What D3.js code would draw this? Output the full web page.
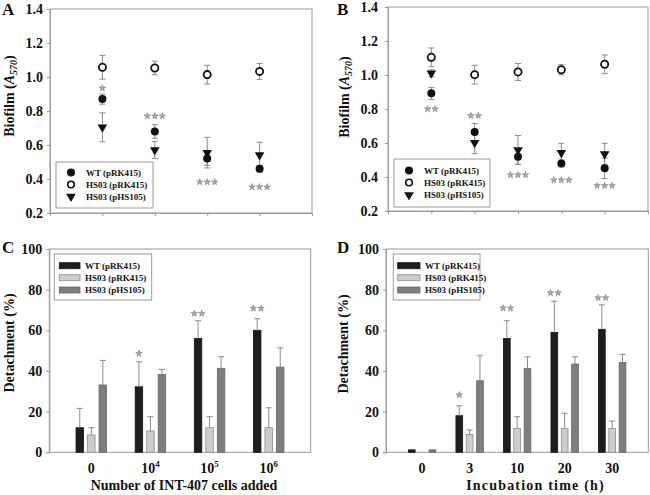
<!DOCTYPE html>
<html><head><meta charset="utf-8">
<script src="https://cdn.jsdelivr.net/npm/d3@7"></script>
<style>
html,body{margin:0;padding:0;background:#fff;}
svg{display:block;font-family:"Liberation Serif","Times New Roman",serif;font-weight:bold;}
</style></head>
<body>
<svg id="chart" width="650" height="495"></svg>
<script>
// ---------- DATA ----------
const seriesNames = ["WT (pRK415)", "HS03 (pRK415)", "HS03 (pHS105)"];

// Panel A: biofilm vs INT-407 cell number (4 conditions)
const aX = [1, 2, 3, 4];
const aWT = [0.87, 0.68, 0.52, 0.46];
const aWTErr = [0.03, 0.04, 0.04, 0.02];
const aRK = [1.057, 1.053, 1.014, 1.033];
const aRKErr = [0.07, 0.04, 0.055, 0.047];
const aHS = [0.704, 0.571, 0.555, 0.541];
const aHSErr = [0.085, 0.05, 0.09, 0.075];
const aStars = [1, 3, 3, 3];
const aStarAt = [0.935, 0.77, 0.382, 0.353];

// Panel B: biofilm vs incubation time (5 conditions)
const bX = [1, 2, 3, 4, 5];
const bWT = [0.892, 0.665, 0.519, 0.48, 0.451];
const bWTErr = [0.035, 0.05, 0.045, 0.02, 0.06];
const bRK = [1.104, 1.002, 1.018, 1.031, 1.063];
const bRKErr = [0.055, 0.055, 0.05, 0.03, 0.055];
const bHS = [1.01, 0.602, 0.559, 0.543, 0.535];
const bHSErr = [0.02, 0.065, 0.085, 0.055, 0.063];
const bStars = [2, 2, 3, 3, 3];
const bStarAt = [0.80, 0.761, 0.412, 0.382, 0.349];

const bioTicks = [0.2, 0.4, 0.6, 0.8, 1.0, 1.2, 1.4];

// Panel C: detachment vs INT-407 cells added
const cCats = [["0", null], ["10", "4"], ["10", "5"], ["10", "6"]];
const cWT = [12.1, 32.2, 56, 60];
const cWTErr = [9.5, 12.3, 8.7, 5.7];
const cRK = [8.5, 10.5, 12.1, 12.1];
const cRKErr = [3.6, 7, 5.4, 9.8];
const cHS = [33.1, 38.3, 41.3, 41.9];
const cHSErr = [12.1, 2.5, 5.7, 9.5];
const cStars = [0, 1, 2, 2];
const cStarAt = [0, 48.6, 68.3, 70.8];

// Panel D: detachment vs incubation time (h)
const dCats = [["0", null], ["3", null], ["10", null], ["20", null], ["30", null]];
const dWT = [1.2, 18, 56, 59, 60.5];
const dWTErr = [0, 4.9, 8.7, 15.3, 12];
const dRK = [0, 8.8, 11.8, 11.8, 11.8];
const dRKErr = [0, 2.2, 5.7, 7.4, 3.6];
const dHS = [1.2, 35.2, 41.3, 43.4, 44.2];
const dHSErr = [0, 12.3, 5.7, 3.6, 4];
const dStars = [0, 1, 2, 2, 2];
const dStarAt = [0, 28.2, 70.9, 78.4, 76];

const detTicks = [0, 20, 40, 60, 80, 100];

// ---------- STYLE ----------
const FRAME = "#9a9a9a";
const ERR = "#8a8a8a";
const barFill = ["#1e1e1e", "#cdcdcd", "#7e7e7e"];
const barStroke = ["#111", "#8c8c8c", "#666"];

const svg = d3.select("#chart");
const starPath = d3.symbol(d3.symbolStar, 13)();

function drawStars(g, cx, cy, n) {
  const sp = 7.5;
  for (let k = 0; k < n; k++) {
    const sx = cx + (k - (n - 1) / 2) * sp;
    g.append("path").attr("d", starPath).attr("transform", `translate(${sx},${cy})`)
      .attr("fill", "#b0b0b0").attr("stroke", "#666").attr("stroke-width", 0.5);
  }
}

function frame(g, x0, x1, y0, y1) {
  g.append("rect").attr("x", x0).attr("y", y0).attr("width", x1 - x0).attr("height", y1 - y0)
    .attr("fill", "none").attr("stroke", FRAME).attr("stroke-width", 1);
}

function yAxis(g, y, x0, ticks, fmt, gap) {
  const ax = d3.axisLeft(y).tickValues(ticks).tickFormat(fmt).tickSize(3).tickPadding(gap);
  const a = g.append("g").attr("transform", `translate(${x0},0)`).call(ax);
  a.select(".domain").attr("stroke", FRAME);
  a.selectAll(".tick line").attr("stroke", FRAME);
  a.selectAll("text").attr("font-size", 14).attr("font-family", "Liberation Serif").attr("font-weight", "bold").attr("fill", "#111");
}

function panelLetter(txt, x, y) {
  svg.append("text").attr("x", x).attr("y", y).attr("font-size", 17).attr("fill", "#111").text(txt);
}

function bioTitle(x, y) {
  const t = svg.append("text").attr("transform", `translate(${x},${y}) rotate(-90)`)
    .attr("text-anchor", "middle").attr("font-size", 14).attr("fill", "#111");
  t.append("tspan").text("Biofilm (");
  t.append("tspan").attr("font-style", "italic").text("A");
  t.append("tspan").attr("font-style", "italic").attr("font-size", 10).attr("dy", 3).text("570");
  t.append("tspan").attr("dy", -3).text(")");
}

function scatterPanel(cfg, xs, series, stars, starAt) {
  const g = svg.append("g");
  const x = d3.scaleLinear().domain([0, cfg.nTicks]).range([cfg.x0, cfg.x1]);
  const y = d3.scaleLinear().domain([0.2, 1.4]).range([cfg.y1, cfg.y0]);
  frame(g, cfg.x0, cfg.x1, cfg.y0, cfg.y1);
  const xa = d3.axisBottom(x).tickValues(d3.range(0, cfg.nTicks + 1)).tickFormat("").tickSize(3);
  const xg = g.append("g").attr("transform", `translate(0,${cfg.y1})`).call(xa);
  xg.select(".domain").attr("stroke", FRAME);
  xg.selectAll(".tick line").attr("stroke", FRAME);
  yAxis(g, y, cfg.x0, bioTicks, d3.format(".1f"), cfg.gap);

  series.forEach(s => {
    const eg = g.append("g").attr("stroke", ERR).attr("stroke-width", 1);
    xs.forEach((xv, i) => {
      const e = s.err[i]; if (!e) return;
      const cx = x(xv), yt = y(s.vals[i] + e), yb = y(s.vals[i] - e);
      eg.append("line").attr("x1", cx).attr("x2", cx).attr("y1", yt).attr("y2", yb);
      eg.append("line").attr("x1", cx - 3).attr("x2", cx + 3).attr("y1", yt).attr("y2", yt);
      eg.append("line").attr("x1", cx - 3).attr("x2", cx + 3).attr("y1", yb).attr("y2", yb);
    });
  });
  const tri = d3.symbol(d3.symbolTriangle, 40)();
  [2, 0, 1].forEach(si => {
    const s = series[si];
    xs.forEach((xv, i) => {
      const cx = x(xv), cy = y(s.vals[i]);
      if (si === 0) g.append("circle").attr("cx", cx).attr("cy", cy).attr("r", 4).attr("fill", "#111");
      else if (si === 1) g.append("circle").attr("cx", cx).attr("cy", cy).attr("r", 3.6).attr("fill", "#fff").attr("stroke", "#111").attr("stroke-width", 1.8);
      else g.append("path").attr("d", tri).attr("transform", `translate(${cx},${cy}) rotate(180)`).attr("fill", "#111");
    });
  });
  xs.forEach((xv, i) => { if (stars[i]) drawStars(g, x(xv), y(starAt[i]), stars[i]); });

  const L = cfg.leg;
  g.append("rect").attr("x", L.x0).attr("y", L.y0).attr("width", L.x1 - L.x0).attr("height", L.y1 - L.y0)
    .attr("fill", "#fff").attr("stroke", FRAME);
  seriesNames.forEach((nm, i) => {
    const ry = L.rows[i];
    if (i === 0) g.append("circle").attr("cx", L.sx).attr("cy", ry).attr("r", 4).attr("fill", "#111");
    else if (i === 1) g.append("circle").attr("cx", L.sx).attr("cy", ry).attr("r", 3.3).attr("fill", "#fff").attr("stroke", "#111").attr("stroke-width", 1.6);
    else g.append("path").attr("d", tri).attr("transform", `translate(${L.sx},${ry}) rotate(180)`).attr("fill", "#111");
    g.append("text").attr("x", L.tx).attr("y", ry + 3.2).attr("font-size", 9).attr("fill", "#111").text(nm);
  });
}

function barPanel(cfg, cats, series, stars, starAt, xTitle) {
  const g = svg.append("g");
  const x = d3.scalePoint().domain(d3.range(cats.length)).range([cfg.x0, cfg.x1]).padding(cfg.pad);
  const inner = d3.scaleBand().domain([0, 1, 2]).range([-cfg.gw / 2, cfg.gw / 2]).paddingInner(0.35);
  const y = d3.scaleLinear().domain([0, 100]).range([cfg.y1, cfg.y0]);
  frame(g, cfg.x0, cfg.x1, cfg.y0, cfg.y1);
  yAxis(g, y, cfg.x0, detTicks, d3.format("d"), cfg.gap);

  series.forEach((s, si) => {
    cats.forEach((c, i) => {
      const v = s.vals[i];
      const bx = x(i) + inner(si);
      if (v > 0) {
        g.append("rect").attr("x", bx).attr("y", y(v)).attr("width", inner.bandwidth()).attr("height", y(0) - y(v))
          .attr("fill", barFill[si]).attr("stroke", barStroke[si]).attr("stroke-width", 0.8);
      }
      const e = s.err[i];
      if (e) {
        const cx = bx + inner.bandwidth() / 2;
        g.append("line").attr("x1", cx).attr("x2", cx).attr("y1", y(v)).attr("y2", y(v + e)).attr("stroke", ERR);
        g.append("line").attr("x1", cx - 3).attr("x2", cx + 3).attr("y1", y(v + e)).attr("y2", y(v + e)).attr("stroke", ERR);
      }
    });
  });
  cats.forEach((c, i) => {
    if (stars[i]) drawStars(g, x(i) + inner(0) + inner.bandwidth() / 2, y(starAt[i]), stars[i]);
  });
  cats.forEach((c, i) => {
    const t = g.append("text").attr("x", x(i)).attr("y", cfg.y1 + 21).attr("text-anchor", "middle")
      .attr("font-size", 14).attr("fill", "#111");
    t.append("tspan").text(c[0]);
    if (c[1]) t.append("tspan").attr("font-size", 9).attr("dy", -6).text(c[1]);
  });
  g.append("text").attr("x", cfg.titleX).attr("y", cfg.y1 + 38).attr("text-anchor", "middle")
    .attr("font-size", 14).attr("letter-spacing", cfg.titleLS).attr("fill", "#111").text(xTitle);
  const L = cfg.leg;
  g.append("rect").attr("x", L.x0).attr("y", L.y0).attr("width", L.x1 - L.x0).attr("height", L.y1 - L.y0)
    .attr("fill", "#fff").attr("stroke", FRAME);
  seriesNames.forEach((nm, i) => {
    const ry = L.rows[i];
    g.append("rect").attr("x", L.sx0).attr("y", ry - 3).attr("width", L.sx1 - L.sx0).attr("height", 6)
      .attr("fill", barFill[i]).attr("stroke", barStroke[i]).attr("stroke-width", 0.8);
    g.append("text").attr("x", L.tx).attr("y", ry + 3.2).attr("font-size", 9).attr("fill", "#111").text(nm);
  });
  svg.append("text").attr("transform", `translate(${cfg.ytx},${cfg.yty}) rotate(-90)`)
    .attr("text-anchor", "middle").attr("font-size", 14).attr("fill", "#111").text("Detachment (%)");
}

const mk = (vals, err) => ({vals, err});

scatterPanel({x0: 50, x1: 312, y0: 9, y1: 213, nTicks: 5, gap: 4,
  leg: {x0: 56, x1: 153, y0: 162, y1: 208, sx: 71, tx: 86, rows: [172.5, 184.5, 196.5]}},
  aX, [mk(aWT, aWTErr), mk(aRK, aRKErr), mk(aHS, aHSErr)], aStars, aStarAt);
bioTitle(14, 96);
panelLetter("A", 2, 15);

scatterPanel({x0: 388, x1: 648, y0: 7, y1: 211, nTicks: 6, gap: 7,
  leg: {x0: 394, x1: 490, y0: 159, y1: 207, sx: 409, tx: 424, rows: [170.5, 182.5, 195]}},
  bX, [mk(bWT, bWTErr), mk(bRK, bRKErr), mk(bHS, bHSErr)], bStars, bStarAt);
bioTitle(349, 97);
panelLetter("B", 337, 15);

barPanel({x0: 49.3, x1: 310.7, y0: 249, y1: 452.3, pad: 0.71, gw: 30.5, gap: 4, titleX: 184, titleLS: 0,
  ytx: 14, yty: 343,
  leg: {x0: 54.3, x1: 151.7, y0: 254, y1: 300, sx0: 59.3, sx1: 80, tx: 85, rows: [265.7, 277.7, 290]}},
  cCats, [mk(cWT, cWTErr), mk(cRK, cRKErr), mk(cHS, cHSErr)], cStars, cStarAt, "Number of INT-407 cells added");
panelLetter("C", 2, 253);

barPanel({x0: 386, x1: 648.3, y0: 249, y1: 452.3, pad: 0.76, gw: 27.4, gap: 4, titleX: 535.5, titleLS: 1.2,
  ytx: 348, yty: 344,
  leg: {x0: 393.3, x1: 480, y0: 254, y1: 300, sx0: 397.7, sx1: 420, tx: 425, rows: [265.7, 277.7, 290]}},
  dCats, [mk(dWT, dWTErr), mk(dRK, dRKErr), mk(dHS, dHSErr)], dStars, dStarAt, "Incubation time (h)");
panelLetter("D", 337, 253);
</script>
</body></html>
